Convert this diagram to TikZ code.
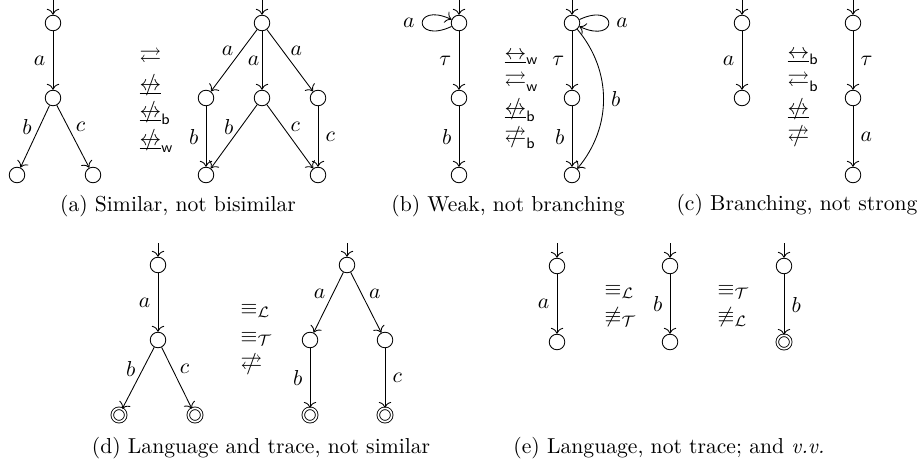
\documentclass[tikz,border=0pt]{standalone}
\usepackage{amssymb}
\usetikzlibrary{arrows.meta}
\newcommand{\simrel}{\mathrel{\rightleftarrows}}
\newcommand{\bisrel}{\mathrel{\underline{\leftrightarrow}}}
\newcommand{\negrel}[1]{\mathrel{\mbox{\ooalign{$#1$\cr\hidewidth$/$\hidewidth\cr}}}}
\tikzset{
  st/.style={circle,draw,minimum size=7.2pt,inner sep=0pt},
  acc/.style={circle,draw,double,double distance=0.8pt,minimum size=6.2pt,inner sep=0pt},
  trans/.style={-{To[scale=1.1]}},
  rel/.style={align=left,anchor=west},
  captext/.style={font=\normalsize}
}

\begin{document}
\begin{tikzpicture}[x=0.01625cm,y=-0.01625cm]
  \useasboundingbox (0,0) rectangle (922,468);
  \node[st] (a0) at (53,23) {};
  \node[st] (a1) at (53,98) {};
  \node[st] (a2) at (17,175) {};
  \node[st] (a3) at (93,175) {};
  \coordinate (ai) at (53,0);
  \draw[trans] (ai) -- (a0);
  \draw[trans] (a0) -- node[left] {$a$} (a1);
  \draw[trans] (a1) -- node[pos=.35,left] {$b$} (a2);
  \draw[trans] (a1) -- node[pos=.35,right] {$c$} (a3);
  \node[rel] (arel) at (132,100) {$\simrel$\\[0.8pt] $\negrel{\bisrel}$\\[0.8pt] $\negrel{\bisrel}_{\mathsf{b}}$\\[0.8pt] $\negrel{\bisrel}_{\mathsf{w}}$};
  \node[st] (a4) at (262,23) {};
  \node[st] (a5) at (206,98) {};
  \node[st] (a6) at (262,98) {};
  \node[st] (a7) at (318,98) {};
  \node[st] (a8) at (206,175) {};
  \node[st] (a9) at (318,175) {};
  \coordinate (aj) at (262,0);
  \draw[trans] (aj) -- (a4);
  \draw[trans] (a4) -- node[pos=.35,left] {$a$} (a5);
  \draw[trans] (a4) -- node[left,inner sep=1pt] {$a$} (a6);
  \draw[trans] (a4) -- node[pos=.35,right] {$a$} (a7);
  \draw[trans] (a5) -- node[left] {$b$} (a8);
  \draw[trans] (a6) -- node[pos=.35,left] {$b$} (a8);
  \draw[trans] (a6) -- node[pos=.35,right] {$c$} (a9);
  \draw[trans] (a7) -- node[right] {$c$} (a9);
  \node[captext] (capa) at (178,206) {(a) Similar, not bisimilar};

  \node[st] (b0) at (459,23) {};
  \node[st] (b1) at (459,98) {};
  \node[st] (b2) at (459,175) {};
  \coordinate (bi) at (459,0);
  \draw[trans] (bi) -- (b0);
  \draw[trans] (b0) to[out=205,in=155,min distance=7mm] node[left] {$a$} (b0);
  \draw[trans] (b0) -- node[left] {$\tau$} (b1);
  \draw[trans] (b1) -- node[left] {$b$} (b2);
  \node[rel] (brel) at (497,100) {$\bisrel_{\mathsf{w}}$\\[0.8pt] $\simrel_{\mathsf{w}}$\\[0.8pt] $\negrel{\bisrel}_{\mathsf{b}}$\\[0.8pt] $\negrel{\simrel}_{\mathsf{b}}$};
  \node[st] (b3) at (572,23) {};
  \node[st] (b4) at (572,98) {};
  \node[st] (b5) at (572,175) {};
  \coordinate (bj) at (572,0);
  \draw[trans] (bj) -- (b3);
  \draw[trans] (b3) to[out=25,in=-25,min distance=7mm] node[right] {$a$} (b3);
  \draw[trans] (b3) -- node[left] {$\tau$} (b4);
  \draw[trans] (b4) -- node[left] {$b$} (b5);
  \draw[trans] (b3) to[bend left=40] node[right] {$b$} (b5);
  \node[captext] (capb) at (508,206) {(b) Weak, not branching};

  \node[st] (c0) at (742,23) {};
  \node[st] (c1) at (742,98) {};
  \coordinate (ci) at (742,0);
  \draw[trans] (ci) -- (c0);
  \draw[trans] (c0) -- node[left] {$a$} (c1);
  \node[rel] (crel) at (780,99) {$\bisrel_{\mathsf{b}}$\\[0.8pt] $\simrel_{\mathsf{b}}$\\[0.8pt] $\negrel{\bisrel}$\\[0.8pt] $\negrel{\simrel}$};
  \node[st] (c2) at (853,23) {};
  \node[st] (c3) at (853,98) {};
  \node[st] (c4) at (853,175) {};
  \coordinate (cj) at (853,0);
  \draw[trans] (cj) -- (c2);
  \draw[trans] (c2) -- node[right] {$\tau$} (c3);
  \draw[trans] (c3) -- node[right] {$a$} (c4);
  \node[captext] (capc) at (797,205) {(c) Branching, not strong};

  \node[st] (d0) at (158,265) {};
  \node[st] (d1) at (158,340) {};
  \node[acc] (d2) at (119,415) {};
  \node[acc] (d3) at (195,415) {};
  \coordinate (di) at (158,243);
  \draw[trans] (di) -- (d0);
  \draw[trans] (d0) -- node[left] {$a$} (d1);
  \draw[trans] (d1) -- node[pos=.35,left] {$b$} (d2);
  \draw[trans] (d1) -- node[pos=.35,right] {$c$} (d3);
  \node[rel] (drel) at (233,340) {$\equiv_{\mathcal{L}}$\\[0.8pt] $\equiv_{\mathcal{T}}$\\[0.8pt] $\negrel{\simrel}$};
  \node[st] (d4) at (347,265) {};
  \node[st] (d5) at (310,340) {};
  \node[st] (d6) at (385,340) {};
  \node[acc] (d7) at (310,415) {};
  \node[acc] (d8) at (385,415) {};
  \coordinate (dj) at (347,243);
  \draw[trans] (dj) -- (d4);
  \draw[trans] (d4) -- node[pos=.35,left] {$a$} (d5);
  \draw[trans] (d4) -- node[pos=.35,right] {$a$} (d6);
  \draw[trans] (d5) -- node[left] {$b$} (d7);
  \draw[trans] (d6) -- node[right] {$c$} (d8);
  \node[captext] (capd) at (261,448) {(d) Language and trace, not similar};

  \node[st] (e0) at (557,266) {};
  \node[st] (e1) at (557,342) {};
  \coordinate (ei) at (557,243);
  \draw[trans] (ei) -- (e0);
  \draw[trans] (e0) -- node[left] {$a$} (e1);
  \node[rel] (erel) at (597,306) {$\equiv_{\mathcal{L}}$\\[0.8pt] $\not\equiv_{\mathcal{T}}$};
  \node[st] (e2) at (670,266) {};
  \node[st] (e3) at (670,342) {};
  \coordinate (ej) at (670,243);
  \draw[trans] (ej) -- (e2);
  \draw[trans] (e2) -- node[left] {$b$} (e3);
  \node[rel] (frel) at (710,306) {$\equiv_{\mathcal{T}}$\\[0.8pt] $\not\equiv_{\mathcal{L}}$};
  \node[st] (e4) at (784,266) {};
  \node[acc] (e5) at (784,342) {};
  \coordinate (ek) at (784,243);
  \draw[trans] (ek) -- (e4);
  \draw[trans] (e4) -- node[right] {$b$} (e5);
  \node[captext] (cape) at (669,448) {(e) Language, not trace; and \emph{v.v.}};
\end{tikzpicture}
\end{document}
